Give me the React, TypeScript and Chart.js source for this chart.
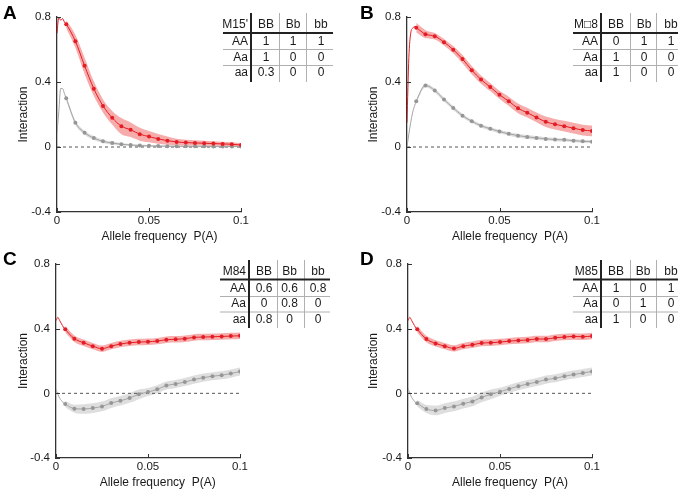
import React, { useEffect, useRef } from "react";
import { Chart, registerables } from "chart.js";

Chart.register(...registerables);

const FONT = "'Liberation Sans', Arial, Helvetica, sans-serif";

// ---------- data ----------
const headFreq = [0, 0.001, 0.002, 0.003, 0.004];
const freq = [0.005, 0.01, 0.015, 0.02, 0.025, 0.03, 0.035, 0.04, 0.045, 0.05, 0.055, 0.06, 0.065, 0.07, 0.075, 0.08, 0.085, 0.09, 0.095, 0.1];
const xTicks = [0, 0.05, 0.1];
const yTicks = [-0.4, 0, 0.4, 0.8];
const xTitle = "Allele frequency  P(A)";
const yTitle = "Interaction";
const genoCols = ["BB", "Bb", "bb"];
const genoRows = ["AA", "Aa", "aa"];

// Panel A
const redHeadA = [0.7, 0.8, 0.78, 0.79, 0.77];
const redA = [0.756, 0.651, 0.5, 0.359, 0.253, 0.18, 0.128, 0.106, 0.079, 0.064, 0.05, 0.039, 0.031, 0.027, 0.025, 0.023, 0.021, 0.019, 0.017, 0.012];
const redErrA = [0.025, 0.04, 0.05, 0.045, 0.04, 0.042, 0.05, 0.045, 0.04, 0.035, 0.03, 0.025, 0.02, 0.018, 0.016, 0.015, 0.014, 0.013, 0.012, 0.012];
const greyHeadA = [0.09, 0.22, 0.36, 0.36, 0.33];
const greyA = [0.3, 0.15, 0.088, 0.055, 0.035, 0.024, 0.017, 0.012, 0.009, 0.007, 0.006, 0.005, 0.005, 0.004, 0.004, 0.004, 0.003, 0.003, 0.003, 0.003];
const greyErrA = [0.015, 0.015, 0.013, 0.012, 0.01, 0.01, 0.008, 0.007, 0.006, 0.006, 0.005, 0.005, 0.005, 0.005, 0.005, 0.005, 0.005, 0.005, 0.005, 0.005];
const tableA = [[1, 1, 1], [1, 0, 0], [0.3, 0, 0]];

// Panel B
const redHeadB = [0.15, 0.55, 0.7, 0.73, 0.74];
const redB = [0.734, 0.694, 0.682, 0.645, 0.599, 0.541, 0.473, 0.415, 0.369, 0.321, 0.282, 0.238, 0.211, 0.182, 0.155, 0.14, 0.128, 0.116, 0.104, 0.099];
const redErrB = [0.03, 0.025, 0.02, 0.02, 0.022, 0.025, 0.025, 0.025, 0.025, 0.025, 0.028, 0.03, 0.03, 0.03, 0.032, 0.032, 0.033, 0.033, 0.033, 0.033];
const greyHeadB = [0, 0.08, 0.15, 0.21, 0.25];
const greyB = [0.282, 0.379, 0.348, 0.292, 0.24, 0.193, 0.158, 0.131, 0.112, 0.095, 0.081, 0.07, 0.062, 0.056, 0.05, 0.046, 0.044, 0.039, 0.035, 0.033];
const greyErrB = [0.012, 0.012, 0.012, 0.012, 0.012, 0.012, 0.011, 0.011, 0.011, 0.011, 0.011, 0.012, 0.012, 0.011, 0.01, 0.01, 0.01, 0.009, 0.009, 0.009];
const tableB = [[0, 1, 1], [1, 0, 0], [1, 0, 0]];

// Panel C
const redHeadC = [0.45, 0.47, 0.45, 0.43, 0.41];
const redC = [0.396, 0.338, 0.313, 0.292, 0.276, 0.292, 0.305, 0.313, 0.317, 0.319, 0.323, 0.332, 0.334, 0.338, 0.346, 0.348, 0.35, 0.352, 0.354, 0.356];
const redErrC = [0.02, 0.02, 0.02, 0.02, 0.02, 0.02, 0.02, 0.02, 0.02, 0.02, 0.02, 0.02, 0.02, 0.02, 0.02, 0.02, 0.02, 0.02, 0.02, 0.02];
const greyHeadC = [0.025, -0.005, -0.03, -0.045, -0.058];
const greyC = [-0.066, -0.095, -0.097, -0.091, -0.081, -0.06, -0.046, -0.029, -0.006, 0.008, 0.025, 0.048, 0.058, 0.07, 0.085, 0.097, 0.106, 0.112, 0.122, 0.135];
const greyErrC = [0.02, 0.025, 0.03, 0.03, 0.03, 0.03, 0.03, 0.03, 0.03, 0.025, 0.025, 0.025, 0.025, 0.025, 0.025, 0.025, 0.025, 0.025, 0.025, 0.025];
const tableC = [[0.6, 0.6, 0.8], [0, 0.8, 0], [0.8, 0, 0]];

// Panel D
const redHeadD = [0.45, 0.47, 0.45, 0.43, 0.41];
const redD = [0.396, 0.336, 0.309, 0.292, 0.278, 0.292, 0.3, 0.311, 0.313, 0.317, 0.323, 0.327, 0.33, 0.336, 0.336, 0.344, 0.348, 0.352, 0.35, 0.354];
const redErrD = [0.02, 0.02, 0.02, 0.02, 0.02, 0.02, 0.02, 0.02, 0.02, 0.02, 0.02, 0.02, 0.02, 0.02, 0.02, 0.02, 0.02, 0.02, 0.02, 0.02];
const greyHeadD = [0.03, 0.0, -0.025, -0.042, -0.055];
const greyD = [-0.062, -0.097, -0.106, -0.091, -0.081, -0.064, -0.05, -0.025, -0.006, 0.01, 0.027, 0.044, 0.058, 0.07, 0.085, 0.093, 0.106, 0.116, 0.126, 0.135];
const greyErrD = [0.02, 0.025, 0.03, 0.03, 0.03, 0.03, 0.03, 0.03, 0.03, 0.025, 0.025, 0.025, 0.025, 0.025, 0.025, 0.025, 0.025, 0.025, 0.025, 0.025];
const tableD = [[1, 0, 1], [0, 1, 0], [1, 0, 0]];

// ---------- layout ----------
type Layout = {
  left: number; top: number; w: number; h: number;
  padLeft: number; yW: number; padTop: number; padRight: number; xH: number;
  letterX: number; xTitleX: number; xTitleY: number;
  headY: number; hlineY: number; rowY: number[]; thinY: number[];
  thickX: number; thinX: number[]; hx0: number; hx1: number; rhRight: number; colX: number[];
  vTop: number; vBot: number;
};

const layoutTop = { headY: 25, hlineY: 33, rowY: [42, 57.5, 73], thinY: [49.5, 65.5], vTop: 13, vBot: 82 };
const layoutBot = { headY: 26, hlineY: 33.5, rowY: [42.5, 58, 73.5], thinY: [50.5, 66], vTop: 14, vBot: 82 };

const panels = [
  {
    letter: "A", model: "M15'", table: tableA, redHead: redHeadA, red: redA, redErr: redErrA, greyHead: greyHeadA, grey: greyA, greyErr: greyErrA,
    lay: { left: 0, top: 0, w: 343, h: 246, padLeft: 0, yW: 57, padTop: 17, padRight: 102, xH: 34, letterX: 3, xTitleX: 159.5, xTitleY: 237,
      ...layoutTop, thickX: 251, thinX: [279, 306], hx0: 223, hx1: 333, rhRight: 248, colX: [266, 293, 321] } as Layout,
  },
  {
    letter: "B", model: "M\u25A18", table: tableB, redHead: redHeadB, red: redB, redErr: redErrB, greyHead: greyHeadB, grey: greyB, greyErr: greyErrB,
    lay: { left: 343, top: 0, w: 343, h: 246, padLeft: 7, yW: 57, padTop: 17, padRight: 94, xH: 34, letterX: 17, xTitleX: 167, xTitleY: 237,
      ...layoutTop, thickX: 258, thinX: [287, 313], hx0: 230, hx1: 335, rhRight: 255, colX: [273, 301, 328] } as Layout,
  },
  {
    letter: "C", model: "M84", table: tableC, redHead: redHeadC, red: redC, redErr: redErrC, greyHead: greyHeadC, grey: greyC, greyErr: greyErrC,
    lay: { left: 0, top: 246, w: 343, h: 247, padLeft: 0, yW: 56, padTop: 18, padRight: 103, xH: 35, letterX: 3, xTitleX: 157.7, xTitleY: 237,
      ...layoutBot, thickX: 249, thinX: [277, 304], hx0: 220, hx1: 330, rhRight: 246, colX: [264, 289.5, 318] } as Layout,
  },
  {
    letter: "D", model: "M85", table: tableD, redHead: redHeadD, red: redD, redErr: redErrD, greyHead: greyHeadD, grey: greyD, greyErr: greyErrD,
    lay: { left: 343, top: 246, w: 343, h: 247, padLeft: 7, yW: 58, padTop: 18, padRight: 94, xH: 35, letterX: 17, xTitleX: 167, xTitleY: 237,
      ...layoutBot, thickX: 258, thinX: [287, 313], hx0: 230, hx1: 335, rhRight: 255, colX: [273, 300, 328] } as Layout,
  },
];

const RED = "rgb(228,28,36)";
const RED_BAND = "rgba(238,70,70,0.45)";
const GREY = "rgb(165,165,165)";
const GREY_PT = "rgb(150,150,150)";
const GREY_BAND = "rgb(222,222,222)";
const AXIS = "#333333";
const TEXT = "#1a1a1a";

function Panel({ p }: { p: (typeof panels)[number] }) {
  const ref = useRef<HTMLCanvasElement | null>(null);
  useEffect(() => {
    const canvas = ref.current;
    if (!canvas) return;
    const L = p.lay;
    const band = (vals: number[], errs: number[], s: number) => freq.map((x, i) => ({ x, y: vals[i] + s * errs[i] }));
    const line = (head: number[], vals: number[]) => [
      ...headFreq.map((x, i) => ({ x, y: head[i] })),
      ...freq.map((x, i) => ({ x, y: vals[i] })),
    ];
    const nHead = headFreq.length;
    const clear = "rgba(0,0,0,0)";

    const decor = {
      id: "decor" + p.letter,
      afterDraw(chart: any) {
        const ctx = chart.ctx as CanvasRenderingContext2D;
        const xs = chart.scales.x;
        const ys = chart.scales.y;
        const ca = chart.chartArea;
        ctx.save();
        // inward ticks
        ctx.strokeStyle = AXIS;
        ctx.lineWidth = 1;
        ctx.beginPath();
        yTicks.forEach((v) => {
          const py = Math.round(ys.getPixelForValue(v)) + 0.5;
          ctx.moveTo(ca.left, py);
          ctx.lineTo(ca.left + 4, py);
        });
        xTicks.forEach((v) => {
          const px = Math.round(xs.getPixelForValue(v)) + 0.5;
          ctx.moveTo(px, ca.bottom);
          ctx.lineTo(px, ca.bottom - 4);
        });
        ctx.stroke();

        // panel letter
        ctx.fillStyle = "#000";
        ctx.font = `bold 19px ${FONT}`;
        ctx.textAlign = "left";
        ctx.textBaseline = "middle";
        ctx.fillText(p.letter, L.letterX, 14);

        // x title
        ctx.fillStyle = TEXT;
        ctx.font = `12px ${FONT}`;
        ctx.textAlign = "center";
        ctx.fillText(xTitle, L.xTitleX, L.xTitleY);

        // table
        ctx.strokeStyle = "#b0b0b0";
        ctx.lineWidth = 1;
        ctx.beginPath();
        L.thinX.forEach((x) => {
          ctx.moveTo(x + 0.5, L.vTop);
          ctx.lineTo(x + 0.5, L.vBot);
        });
        L.thinY.forEach((y) => {
          ctx.moveTo(L.hx0, y);
          ctx.lineTo(L.hx1, y);
        });
        ctx.stroke();
        ctx.strokeStyle = "#222";
        ctx.lineWidth = 2;
        ctx.beginPath();
        ctx.moveTo(L.hx0, L.hlineY);
        ctx.lineTo(L.hx1, L.hlineY);
        ctx.moveTo(L.thickX, L.vTop);
        ctx.lineTo(L.thickX, L.vBot);
        ctx.stroke();

        ctx.fillStyle = TEXT;
        ctx.font = `12px ${FONT}`;
        ctx.textBaseline = "middle";
        ctx.textAlign = "right";
        ctx.fillText(p.model, L.rhRight, L.headY);
        genoRows.forEach((r, i) => ctx.fillText(r, L.rhRight, L.rowY[i]));
        ctx.textAlign = "center";
        genoCols.forEach((c, j) => ctx.fillText(c, L.colX[j], L.headY));
        p.table.forEach((row, i) =>
          row.forEach((v, j) => ctx.fillText(String(v), L.colX[j], L.rowY[i]))
        );
        ctx.restore();
      },
    };

    const chart = new Chart(canvas, {
      type: "line",
      data: {
        datasets: [
          { data: band(p.red, p.redErr, 1), fill: "+1", backgroundColor: RED_BAND, borderColor: clear, borderWidth: 1, pointRadius: 0, cubicInterpolationMode: "monotone", order: 20 },
          { data: band(p.red, p.redErr, -1), fill: false, borderColor: clear, borderWidth: 1, pointRadius: 0, cubicInterpolationMode: "monotone", order: 20 },
          { data: band(p.grey, p.greyErr, 1), fill: "+1", backgroundColor: GREY_BAND, borderColor: clear, borderWidth: 1, pointRadius: 0, cubicInterpolationMode: "monotone", order: 21 },
          { data: band(p.grey, p.greyErr, -1), fill: false, borderColor: clear, borderWidth: 1, pointRadius: 0, cubicInterpolationMode: "monotone", order: 21 },
          { data: [{ x: xTicks[0], y: 0 }, { x: xTicks[2], y: 0 }], fill: false, borderColor: "#555", borderWidth: 1, borderDash: [3, 3], pointRadius: 0, order: 12 },
          {
            data: line(p.greyHead, p.grey), fill: false, borderColor: GREY, borderWidth: 1,
            pointRadius: (c: any) => (c.dataIndex < nHead ? 0 : 2), pointBackgroundColor: GREY_PT, pointBorderWidth: 0,
            cubicInterpolationMode: "monotone", order: 10,
          },
          {
            data: line(p.redHead, p.red), fill: false, borderColor: RED, borderWidth: 1,
            pointRadius: (c: any) => (c.dataIndex < nHead ? 0 : 2), pointBackgroundColor: RED, pointBorderWidth: 0,
            cubicInterpolationMode: "monotone", order: 1,
          },
        ] as any,
      },
      options: {
        responsive: false,
        animation: false,
        devicePixelRatio: 1,
        layout: { padding: { left: L.padLeft, top: L.padTop, right: L.padRight, bottom: 0 } },
        plugins: {
          legend: { display: false },
          tooltip: { enabled: false },
          filler: { propagate: false, drawTime: "beforeDatasetsDraw" },
        } as any,
        scales: {
          x: {
            type: "linear",
            min: 0,
            max: 0.1,
            afterBuildTicks: (s: any) => { s.ticks = xTicks.map((v) => ({ value: v })); },
            afterFit: (s: any) => { s.height = L.xH; },
            grid: { display: false, drawTicks: false },
            border: { display: true, color: AXIS, width: 1.3 },
            ticks: { padding: 2, color: TEXT, font: { family: FONT, size: 11.5 }, maxRotation: 0, autoSkip: false, callback: (v: any) => String(v) },
          },
          y: {
            type: "linear",
            min: -0.4,
            max: 0.8,
            afterBuildTicks: (s: any) => { s.ticks = yTicks.map((v) => ({ value: v })); },
            afterFit: (s: any) => { s.width = L.yW; },
            grid: { display: false, drawTicks: false },
            border: { display: true, color: AXIS, width: 1.3 },
            ticks: { padding: 6, color: TEXT, font: { family: FONT, size: 11.5 }, autoSkip: false, callback: (v: any) => String(v) },
            title: { display: true, text: yTitle, color: TEXT, font: { family: FONT, size: 12 }, padding: { top: 16, bottom: 0 } },
          },
        } as any,
      },
      plugins: [decor],
    });
    return () => chart.destroy();
  }, [p]);

  const L = p.lay;
  return (
    <canvas
      ref={ref}
      width={L.w}
      height={L.h}
      style={{ position: "absolute", left: L.left, top: L.top, width: L.w, height: L.h, display: "block" }}
    />
  );
}

export default function App() {
  return (
    <div style={{ position: "fixed", left: 0, top: 0, width: 686, height: 493, background: "#fff", overflow: "hidden" }}>
      {panels.map((p) => (
        <Panel key={p.letter} p={p} />
      ))}
    </div>
  );
}
